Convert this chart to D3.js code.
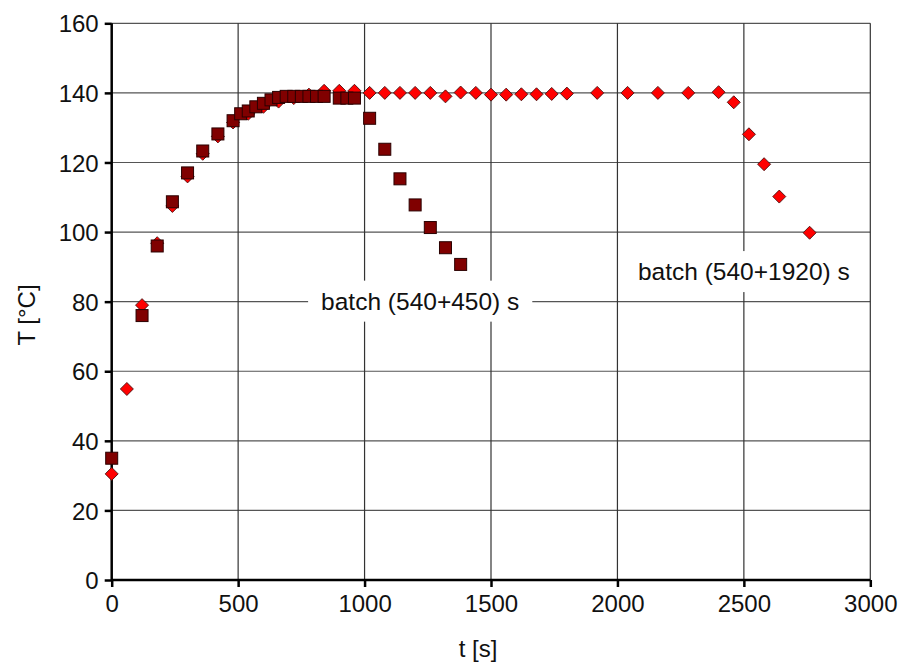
<!DOCTYPE html>
<html>
<head>
<meta charset="utf-8">
<script src="https://cdn.jsdelivr.net/npm/d3@7"></script>
<style>
  body { margin: 0; background: #fff; }
  text { font-family: "Liberation Sans", Arial, sans-serif; fill: #111; }
</style>
</head>
<body>
<div id="vis"></div>
<script>
// batch (540+450) s  -- squares
var tShort = [0, 120, 180, 240, 300, 360, 420, 480, 510, 540, 570, 600, 630, 660, 690, 720, 750, 780, 810, 840, 900, 930, 960, 1020, 1080, 1140, 1200, 1260, 1320, 1380]
var TShort = [35, 76, 96, 108.7, 117, 123.3, 128.2, 132, 134, 134.8, 136, 137, 138, 138.7, 139, 139, 139, 139, 139, 139, 138.5, 138.5, 138.5, 132.7, 123.8, 115.3, 107.8, 101.3, 95.5, 90.7]

// batch (540+1920) s  -- diamonds
var tLong = [0, 60, 120, 180, 240, 300, 360, 420, 480, 540, 600, 660, 720, 780, 840, 900, 960, 1020, 1080, 1140, 1200, 1260, 1320, 1380, 1440, 1500, 1560, 1620, 1680, 1740, 1800, 1920, 2040, 2160, 2280, 2400, 2460, 2520, 2580, 2640, 2760]
var TLong = [30.5, 54.9, 79, 96.8, 107.5, 116, 122.5, 127.5, 131.5, 134, 136, 137.5, 138.5, 139.5, 140.6, 140.6, 140.6, 140, 140, 140, 140, 140, 139, 140.1, 140, 139.5, 139.5, 139.6, 139.6, 139.7, 139.8, 140, 140, 140, 140, 140.2, 137.3, 128.1, 119.5, 110.2, 99.8]

var xTicks = [0, 500, 1000, 1500, 2000, 2500, 3000]
var yTicks = [0, 20, 40, 60, 80, 100, 120, 140, 160]

var labels = [
  {text: "batch (540+450) s", t: 1220, T: 80},
  {text: "batch (540+1920) s", t: 2500, T: 88.5}
]

var width = 900, height = 664

var x = d3.scaleLinear().domain([0, 3000]).range([111.7, 870.3])
var y = d3.scaleLinear().domain([0, 160]).range([580, 23.3])

var svg = d3.select("#vis").append("svg")
    .attr("width", width)
    .attr("height", height)

// grid
svg.append("g").selectAll("line")
    .data(yTicks.slice(1))
    .enter().append("line")
    .attr("x1", x(0)).attr("x2", x(3000))
    .attr("y1", function(d) { return y(d) }).attr("y2", function(d) { return y(d) })
    .attr("stroke", "#555").attr("stroke-width", 1.2)

svg.append("g").selectAll("line")
    .data(xTicks.slice(1))
    .enter().append("line")
    .attr("y1", y(0)).attr("y2", y(160))
    .attr("x1", function(d) { return x(d) }).attr("x2", function(d) { return x(d) })
    .attr("stroke", "#333").attr("stroke-width", 1.2)

// white boxes behind the labels (they cut the grid)
var lab = svg.append("g").selectAll("g")
    .data(labels)
    .enter().append("g")
    .attr("transform", function(d) { return "translate(" + x(d.t) + "," + y(d.T) + ")" })

lab.append("text")
    .attr("text-anchor", "middle")
    .attr("dy", 8)
    .style("font-size", "24.5px")
    .text(function(d) { return d.text })

lab.each(function() {
  var g = d3.select(this)
  var bb = g.select("text").node().getBBox()
  g.insert("rect", "text")
    .attr("x", bb.x - 13).attr("width", bb.width + 26)
    .attr("y", bb.y - 7).attr("height", bb.height + 14)
    .attr("fill", "#fff")
})

// axes
var yAxis = d3.axisLeft(y).tickValues(yTicks).tickFormat(d3.format("d")).tickSize(7).tickPadding(6)
var xAxis = d3.axisBottom(x).tickValues(xTicks).tickFormat(d3.format("d")).tickSize(7).tickPadding(8)

var gy = svg.append("g").attr("transform", "translate(" + x(0) + ",0)").call(yAxis)
var gx = svg.append("g").attr("transform", "translate(0," + y(0) + ")").call(xAxis)

;[gx, gy].forEach(function(g) {
  g.select(".domain").attr("stroke", "#000").attr("stroke-width", 2.5)
  g.selectAll(".tick line").attr("stroke", "#000").attr("stroke-width", 2.5)
  g.selectAll(".tick text").style("font-size", "24px").attr("fill", "#111")
    .style("font-family", "'Liberation Sans', Arial, sans-serif")
})
gy.select(".domain").attr("d", "M0," + y(0) + "V" + y(160))
gx.select(".domain").attr("d", "M" + x(0) + ",0H" + x(3000))
gy.selectAll(".tick text").attr("dy", "0.36em")

// diamonds first, squares on top
var longData = tLong.map(function(t, i) { return {t: t, T: TLong[i]} })
var shortData = tShort.map(function(t, i) { return {t: t, T: TShort[i]} })

svg.append("g").selectAll("path")
    .data(longData)
    .enter().append("path")
    .attr("d", "M0,-6.5L6.5,0L0,6.5L-6.5,0Z")
    .attr("transform", function(d) { return "translate(" + x(d.t) + "," + y(d.T) + ")" })
    .attr("fill", "#ff0000")
    .attr("stroke", "#4a1010")
    .attr("stroke-width", 0.9)

svg.append("g").selectAll("rect")
    .data(shortData)
    .enter().append("rect")
    .attr("x", function(d) { return x(d.t) - 6 })
    .attr("y", function(d) { return y(d.T) - 6 })
    .attr("width", 12).attr("height", 12)
    .attr("fill", "#800000")
    .attr("stroke", "#2a0000")
    .attr("stroke-width", 1)

// axis titles
svg.append("text")
    .attr("x", 478).attr("y", 657)
    .attr("text-anchor", "middle")
    .style("font-size", "24px")
    .text("t [s]")

svg.append("text")
    .attr("transform", "translate(35,315) rotate(-90)")
    .attr("text-anchor", "middle")
    .style("font-size", "24px")
    .text("T [°C]")
</script>
</body>
</html>
